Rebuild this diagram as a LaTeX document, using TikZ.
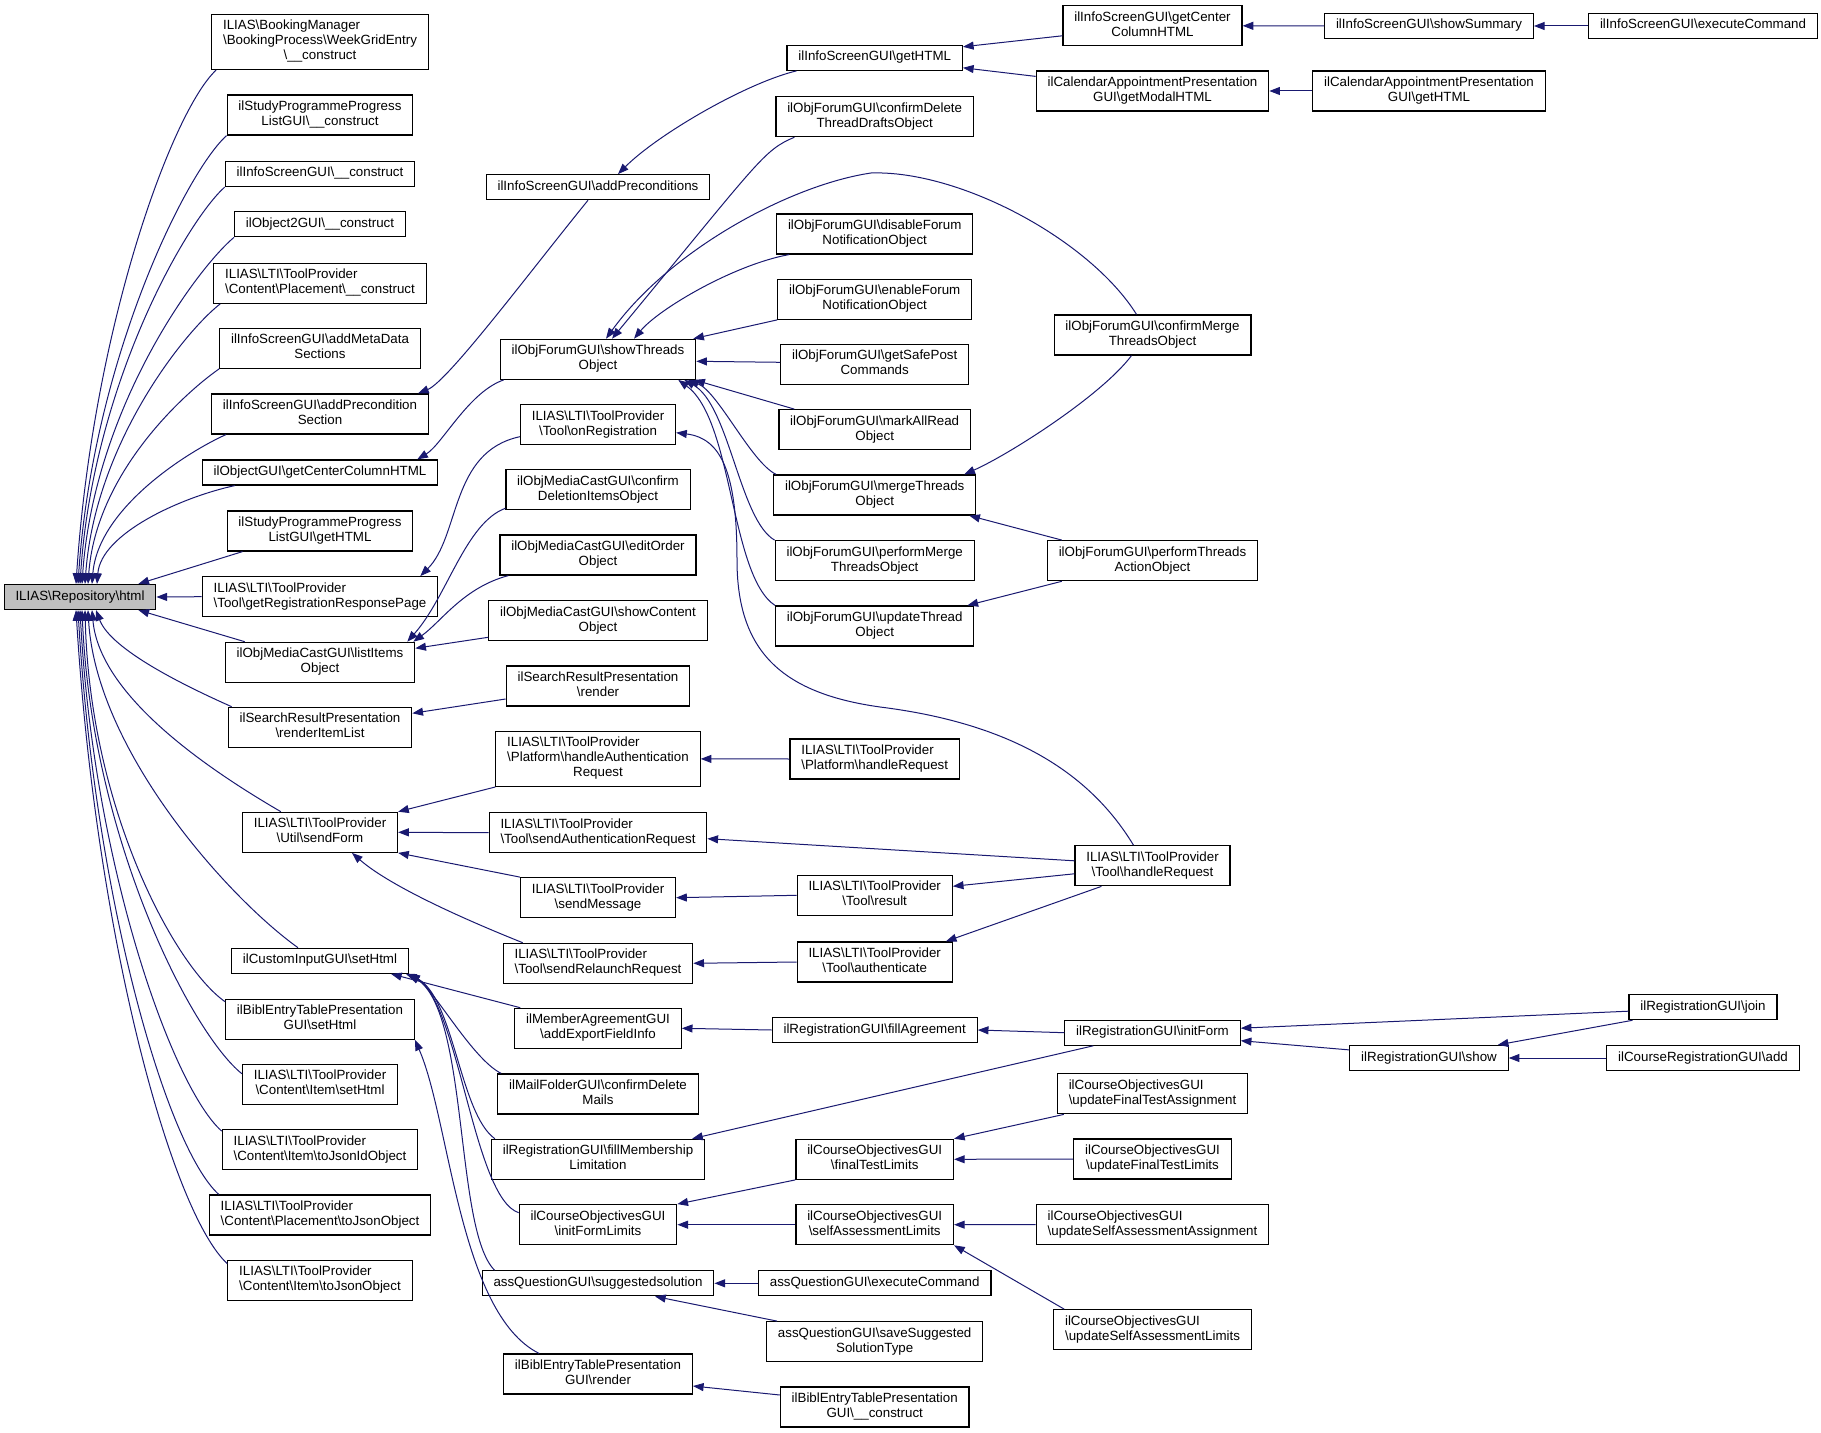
\documentclass[tikz,border=0pt]{standalone}
\usepackage{fontspec}
\setmainfont{Liberation Sans}
\usetikzlibrary{calc}
\usetikzlibrary{arrows.meta}

\definecolor{midnightBlue}{HTML}{191970}
\definecolor{rootGrey}{HTML}{BFBFBF}

\newcommand{\bks}{\textbackslash}
\newcommand{\oneLine}[1]{\begin{tabular}{@{}c@{}}#1\end{tabular}}
\newcommand{\twoLine}[2]{\begin{tabular}{@{}l@{}}#1\\\multicolumn{1}{@{}c@{}}{#2}\end{tabular}}
\newcommand{\threeLine}[3]{\begin{tabular}{@{}l@{}}#1\\#2\\\multicolumn{1}{@{}c@{}}{#3}\end{tabular}}
\renewcommand{\arraystretch}{0.9375}

\tikzset{
	func/.style={draw=black, line width=0.9pt, fill=white, inner xsep=8.5pt, inner ysep=1pt, minimum height=18.75pt},
	func2/.style={func, minimum height=30pt},
	func3/.style={func, minimum height=41.25pt},
	rootFunc/.style={func, fill=rootGrey},
	callArrow/.style={draw=midnightBlue, line width=0.75pt, -{Triangle[length=8pt, width=6pt]}}
}

\begin{document}
\begin{tikzpicture}[x=0.75pt, y=-0.75pt]

	\useasboundingbox (0,0) rectangle (1821,1433);

% Define nodes.

	%root
	\node[rootFunc] (repoHtml) at (80,597) {\oneLine{ILIAS\bks Repository\bks html}};

	%first column
	\node[func3] (bookingConstruct) at (320,42) {\threeLine{ILIAS\bks BookingManager}{\bks BookingProcess\bks WeekGridEntry}{\bks\_\_construct}};
	\node[func2] (spListConstruct) at (320,115) {\twoLine{ilStudyProgrammeProgress}{ListGUI\bks\_\_construct}};
	\node[func] (infoConstruct) at (320,174) {\oneLine{ilInfoScreenGUI\bks\_\_construct}};
	\node[func] (obj2Construct) at (320,224.3) {\oneLine{ilObject2GUI\bks\_\_construct}};
	\node[func2] (placementConstruct) at (320,283.3) {\twoLine{ILIAS\bks LTI\bks ToolProvider}{\bks Content\bks Placement\bks\_\_construct}};
	\node[func2] (addMetaData) at (320,348.3) {\twoLine{ilInfoScreenGUI\bks addMetaData}{Sections}};
	\node[func2] (addPrecondition) at (320,414) {\twoLine{ilInfoScreenGUI\bks addPrecondition}{Section}};
	\node[func] (objGetCenterColumn) at (320,472.5) {\oneLine{ilObjectGUI\bks getCenterColumnHTML}};
	\node[func2] (spListGetHTML) at (320,531) {\twoLine{ilStudyProgrammeProgress}{ListGUI\bks getHTML}};
	\node[func2] (getRegResponse) at (320,596.7) {\twoLine{ILIAS\bks LTI\bks ToolProvider}{\bks Tool\bks getRegistrationResponsePage}};
	\node[func2] (listItems) at (320,662.3) {\twoLine{ilObjMediaCastGUI\bks listItems}{Object}};
	\node[func2] (renderItemList) at (320,727.3) {\twoLine{ilSearchResultPresentation}{\bks renderItemList}};
	\node[func2] (sendForm) at (320,832.3) {\twoLine{ILIAS\bks LTI\bks ToolProvider}{\bks Util\bks sendForm}};
	\node[func] (customSetHtml) at (320,960.8) {\oneLine{ilCustomInputGUI\bks setHtml}};
	\node[func2] (biblSetHtml) at (320,1019.3) {\twoLine{ilBiblEntryTablePresentation}{GUI\bks setHtml}};
	\node[func2] (itemSetHtml) at (320,1084.3) {\twoLine{ILIAS\bks LTI\bks ToolProvider}{\bks Content\bks Item\bks setHtml}};
	\node[func2] (itemToJsonId) at (320,1149.7) {\twoLine{ILIAS\bks LTI\bks ToolProvider}{\bks Content\bks Item\bks toJsonIdObject}};
	\node[func2] (placementToJson) at (320,1215) {\twoLine{ILIAS\bks LTI\bks ToolProvider}{\bks Content\bks Placement\bks toJsonObject}};
	\node[func2] (itemToJson) at (320,1280.3) {\twoLine{ILIAS\bks LTI\bks ToolProvider}{\bks Content\bks Item\bks toJsonObject}};

	%second column
	\node[func] (addPreconditions) at (598,187.2) {\oneLine{ilInfoScreenGUI\bks addPreconditions}};
	\node[func2] (showThreads) at (598,359.3) {\twoLine{ilObjForumGUI\bks showThreads}{Object}};
	\node[func2] (onRegistration) at (598,424.7) {\twoLine{ILIAS\bks LTI\bks ToolProvider}{\bks Tool\bks onRegistration}};
	\node[func2] (confirmDeletionItems) at (598,489.7) {\twoLine{ilObjMediaCastGUI\bks confirm}{DeletionItemsObject}};
	\node[func2] (editOrder) at (598,555) {\twoLine{ilObjMediaCastGUI\bks editOrder}{Object}};
	\node[func2] (showContent) at (598,620.7) {\twoLine{ilObjMediaCastGUI\bks showContent}{Object}};
	\node[func2] (searchRender) at (598,686) {\twoLine{ilSearchResultPresentation}{\bks render}};
	\node[func3] (handleAuthReq) at (598,758.9) {\threeLine{ILIAS\bks LTI\bks ToolProvider}{\bks Platform\bks handleAuthentication}{Request}};
	\node[func2] (sendAuthReq) at (598,832.7) {\twoLine{ILIAS\bks LTI\bks ToolProvider}{\bks Tool\bks sendAuthenticationRequest}};
	\node[func2] (sendMessage) at (598,897.7) {\twoLine{ILIAS\bks LTI\bks ToolProvider}{\bks sendMessage}};
	\node[func2] (sendRelaunch) at (598,963.3) {\twoLine{ILIAS\bks LTI\bks ToolProvider}{\bks Tool\bks sendRelaunchRequest}};
	\node[func2] (addExportFieldInfo) at (598,1028.3) {\twoLine{ilMemberAgreementGUI}{\bks addExportFieldInfo}};
	\node[func2] (mailConfirmDelete) at (598,1094) {\twoLine{ilMailFolderGUI\bks confirmDelete}{Mails}};
	\node[func2] (fillMembership) at (598,1159.3) {\twoLine{ilRegistrationGUI\bks fillMembership}{Limitation}};
	\node[func2] (initFormLimits) at (598,1224.7) {\twoLine{ilCourseObjectivesGUI}{\bks initFormLimits}};
	\node[func] (suggestedSolution) at (598,1283.3) {\oneLine{assQuestionGUI\bks suggestedsolution}};
	\node[func2] (biblRender) at (598,1374) {\twoLine{ilBiblEntryTablePresentation}{GUI\bks render}};

	%third column
	\node[func] (infoGetHTML) at (874.7,57.8) {\oneLine{ilInfoScreenGUI\bks getHTML}};
	\node[func2] (confirmDeleteDrafts) at (874.7,116.7) {\twoLine{ilObjForumGUI\bks confirmDelete}{ThreadDraftsObject}};
	\node[func2] (disableForum) at (874.7,234) {\twoLine{ilObjForumGUI\bks disableForum}{NotificationObject}};
	\node[func2] (enableForum) at (874.7,299.3) {\twoLine{ilObjForumGUI\bks enableForum}{NotificationObject}};
	\node[func2] (getSafePost) at (874.7,364.3) {\twoLine{ilObjForumGUI\bks getSafePost}{Commands}};
	\node[func2] (markAllRead) at (874.7,429.7) {\twoLine{ilObjForumGUI\bks markAllRead}{Object}};
	\node[func2] (mergeThreads) at (874.7,495) {\twoLine{ilObjForumGUI\bks mergeThreads}{Object}};
	\node[func2] (performMerge) at (874.7,560.7) {\twoLine{ilObjForumGUI\bks performMerge}{ThreadsObject}};
	\node[func2] (updateThread) at (874.7,626) {\twoLine{ilObjForumGUI\bks updateThread}{Object}};
	\node[func2] (platformHandleRequest) at (874.7,759) {\twoLine{ILIAS\bks LTI\bks ToolProvider}{\bks Platform\bks handleRequest}};
	\node[func2] (toolResult) at (874.7,895.3) {\twoLine{ILIAS\bks LTI\bks ToolProvider}{\bks Tool\bks result}};
	\node[func2] (toolAuthenticate) at (874.7,962) {\twoLine{ILIAS\bks LTI\bks ToolProvider}{\bks Tool\bks authenticate}};
	\node[func] (fillAgreement) at (874.7,1030) {\oneLine{ilRegistrationGUI\bks fillAgreement}};
	\node[func2] (finalTestLimits) at (874.7,1159.3) {\twoLine{ilCourseObjectivesGUI}{\bks finalTestLimits}};
	\node[func2] (selfAssessLimits) at (874.7,1224.7) {\twoLine{ilCourseObjectivesGUI}{\bks selfAssessmentLimits}};
	\node[func] (assExecute) at (874.7,1283.3) {\oneLine{assQuestionGUI\bks executeCommand}};
	\node[func2] (saveSuggested) at (874.7,1341.7) {\twoLine{assQuestionGUI\bks saveSuggested}{SolutionType}};
	\node[func2] (biblConstruct) at (874.7,1407) {\twoLine{ilBiblEntryTablePresentation}{GUI\bks\_\_construct}};

	%fourth column
	\node[func2] (infoGetCenterColumn) at (1152.5,25.8) {\twoLine{ilInfoScreenGUI\bks getCenter}{ColumnHTML}};
	\node[func2] (calGetModal) at (1152.5,91) {\twoLine{ilCalendarAppointmentPresentation}{GUI\bks getModalHTML}};
	\node[func2] (confirmMerge) at (1152.5,335) {\twoLine{ilObjForumGUI\bks confirmMerge}{ThreadsObject}};
	\node[func2] (performThreadsAction) at (1152.5,560.7) {\twoLine{ilObjForumGUI\bks performThreads}{ActionObject}};
	\node[func2] (toolHandleRequest) at (1152.5,865.8) {\twoLine{ILIAS\bks LTI\bks ToolProvider}{\bks Tool\bks handleRequest}};
	\node[func] (initForm) at (1152.5,1032.7) {\oneLine{ilRegistrationGUI\bks initForm}};
	\node[func2] (updFinalAssign) at (1152.5,1093.8) {\twoLine{ilCourseObjectivesGUI}{\bks updateFinalTestAssignment}};
	\node[func2] (updFinalLimits) at (1152.5,1159) {\twoLine{ilCourseObjectivesGUI}{\bks updateFinalTestLimits}};
	\node[func2] (updSelfAssign) at (1152.5,1224.5) {\twoLine{ilCourseObjectivesGUI}{\bks updateSelfAssessmentAssignment}};
	\node[func2] (updSelfLimits) at (1152.5,1329.7) {\twoLine{ilCourseObjectivesGUI}{\bks updateSelfAssessmentLimits}};

	%fifth and sixth column
	\node[func] (showSummary) at (1429,26) {\oneLine{ilInfoScreenGUI\bks showSummary}};
	\node[func2] (calGetHTML) at (1429,91) {\twoLine{ilCalendarAppointmentPresentation}{GUI\bks getHTML}};
	\node[func] (regShow) at (1429,1058) {\oneLine{ilRegistrationGUI\bks show}};
	\node[func] (infoExecute) at (1703,26) {\oneLine{ilInfoScreenGUI\bks executeCommand}};
	\node[func] (regJoin) at (1703,1007.2) {\oneLine{ilRegistrationGUI\bks join}};
	\node[func] (courseRegAdd) at (1703,1058) {\oneLine{ilCourseRegistrationGUI\bks add}};

% Draw calls into the root.

	\draw[callArrow] ($(bookingConstruct.south west)+(5,0)$) .. controls +(-44,41) and +(17,-257) .. ($(repoHtml.north)+(-4,0)$);
	\draw[callArrow] (spListConstruct.south west) .. controls +(-40,36) and +(15,-225) .. ($(repoHtml.north)+(-2,0)$);
	\draw[callArrow] (infoConstruct.south west) .. controls +(-38,34) and +(13,-200) .. (repoHtml.north);
	\draw[callArrow] (obj2Construct.south west) .. controls +(-38,32) and +(12,-175) .. ($(repoHtml.north)+(2,0)$);
	\draw[callArrow] ($(placementConstruct.south west)+(7,0)$) .. controls +(-36,28) and +(10,-140) .. ($(repoHtml.north)+(5,0)$);
	\draw[callArrow] (addMetaData.south west) .. controls +(-36,25) and +(8,-110) .. ($(repoHtml.north)+(8,0)$);
	\draw[callArrow] ($(addPrecondition.south west)+(15,0)$) .. controls +(-40,18) and +(6,-75) .. ($(repoHtml.north)+(12,0)$);
	\draw[callArrow] ($(objGetCenterColumn.south west)+(33,0)$) .. controls +(-55,12) and +(4,-50) .. ($(repoHtml.north)+(17,0)$);
	\draw[callArrow] ($(spListGetHTML.south west)+(16,0)$) -- ($(repoHtml.north east)+(-18,0)$);
	\draw[callArrow] (getRegResponse.west) -- (repoHtml.east);
	\draw[callArrow] ($(listItems.north west)+(20,0)$) -- ($(repoHtml.south east)+(-18,0)$);
	\draw[callArrow] ($(renderItemList.north west)+(4,0)$) .. controls +(-45,-20) and +(15,40) .. ($(repoHtml.south)+(16,0)$);
	\draw[callArrow] ($(sendForm.north west)+(39,0)$) .. controls +(-60,-35) and +(8,90) .. ($(repoHtml.south)+(12,0)$);
	\draw[callArrow] ($(customSetHtml.north west)+(67,0)$) .. controls +(-70,-50) and +(8,140) .. ($(repoHtml.south)+(8,0)$);
	\draw[callArrow] ($(biblSetHtml.north west)+(0,3)$) .. controls +(-50,-35) and +(5,200) .. ($(repoHtml.south)+(5,0)$);
	\draw[callArrow] ($(itemSetHtml.north west)+(0,10)$) .. controls +(-50,-40) and +(10,230) .. ($(repoHtml.south)+(2,0)$);
	\draw[callArrow] ($(itemToJsonId.north west)+(0,2)$) .. controls +(-48,-42) and +(14,260) .. (repoHtml.south);
	\draw[callArrow] ($(placementToJson.north west)+(10,0)$) .. controls +(-52,-47) and +(17,290) .. ($(repoHtml.south)+(-2,0)$);
	\draw[callArrow] ($(itemToJson.north west)+(0,4)$) .. controls +(-56,-52) and +(20,327) .. ($(repoHtml.south)+(-4,0)$);

% Draw calls into the first column.

	\draw[callArrow] ($(addPreconditions.south)+(-10,0)$) .. controls +(-57,70) and +(30,-12) .. ($(addPrecondition.north east)+(-11,0)$);
	\draw[callArrow] ($(showThreads.south west)+(4,0)$) .. controls +(-35,12) and +(25,-15) .. ($(objGetCenterColumn.north east)+(-21,0)$);
	\draw[callArrow] ($(onRegistration.west)+(0,12)$) .. controls +(-70,15) and +(40,-40) .. ($(getRegResponse.north east)+(-18,0)$);
	\draw[callArrow] ($(confirmDeletionItems.south west)+(0,-2)$) .. controls +(-40,15) and +(40,-45) .. ($(listItems.north east)+(-8,0)$);
	\draw[callArrow] ($(editOrder.south west)+(9,0)$) .. controls +(-45,12) and +(28,-20) .. ($(listItems.north east)+(-2,0)$);
	\draw[callArrow] ($(showContent.south west)+(0,-4)$) -- ($(listItems.east)+(0,-14)$);
	\draw[callArrow] ($(searchRender.west)+(0,13)$) -- ($(renderItemList.east)+(0,-14)$);
	\draw[callArrow] (handleAuthReq.south west) -- (sendForm.north east);
	\draw[callArrow] (sendAuthReq.west) -- (sendForm.east);
	\draw[callArrow] (sendMessage.north west) -- (sendForm.south east);
	\draw[callArrow] ($(sendRelaunch.north west)+(20,0)$) .. controls +(-50,-20) and +(40,35) .. ($(sendForm.south)+(32,0)$);
	\draw[callArrow] ($(addExportFieldInfo.north west)+(6,0)$) -- ($(customSetHtml.south east)+(-18,0)$);
	\draw[callArrow] ($(mailConfirmDelete.north west)+(4,0)$) .. controls +(-30,-15) and +(25,10) .. ($(customSetHtml.south east)+(-3,0)$);
	\draw[callArrow] ($(fillMembership.north west)+(4,0)$) .. controls +(-35,-25) and +(45,25) .. (customSetHtml.south east);
	\draw[callArrow] ($(initFormLimits.west)+(0,-12)$) .. controls +(-45,-15) and +(50,30) .. (customSetHtml.south east);
	\draw[callArrow] ($(suggestedSolution.north west)+(13,0)$) .. controls +(-40,-40) and +(60,40) .. (customSetHtml.south east);
	\draw[callArrow] ($(biblRender.north west)+(36,0)$) .. controls +(-80,-40) and +(35,80) .. (biblSetHtml.south east);

% Draw calls into the second column.

	\draw[callArrow] ($(infoGetHTML.south west)+(10,0)$) .. controls +(-50,12) and +(40,-40) .. ($(addPreconditions.north)+(20,0)$);
	\draw[callArrow] ($(confirmDeleteDrafts.south west)+(19,0)$) .. controls +(-31,13) and +(148,-179) .. ($(showThreads.north)+(14,0)$);
	\draw[callArrow] ($(confirmMerge.north)+(-16,0)$) .. controls (1090,240) and (960,170) .. (871,173) .. controls (790,185) and (670,250) .. ($(showThreads.north)+(8,0)$);
	\draw[callArrow] ($(disableForum.south west)+(13,0)$) .. controls +(-55,10) and +(25,-30) .. ($(showThreads.north)+(36,0)$);
	\draw[callArrow] (enableForum.south west) -- ($(showThreads.north east)+(-3,0)$);
	\draw[callArrow] ($(getSafePost.west)+(0,-2)$) -- ($(showThreads.east)+(0,2)$);
	\draw[callArrow] ($(markAllRead.north west)+(16,0)$) -- ($(showThreads.south east)+(-2,0)$);
	\draw[callArrow] ($(mergeThreads.north west)+(3,0)$) .. controls +(-25,-12) and +(30,12) .. ($(showThreads.south east)+(-8,0)$);
	\draw[callArrow] (performMerge.north west) .. controls +(-35,-20) and +(45,25) .. ($(showThreads.south east)+(-12,0)$);
	\draw[callArrow] (updateThread.north west) .. controls +(-45,-30) and +(55,40) .. ($(showThreads.south east)+(-18,0)$);
	\draw[callArrow] ($(toolHandleRequest.north)+(-19,0)$) .. controls (1085,765) and (1000,722) .. (880,707) .. controls (780,693) and (737,650) .. (737,560) .. controls (737,470) and (720,438) .. ($(onRegistration.east)+(0,8)$);
	\draw[callArrow] (platformHandleRequest.west) -- (handleAuthReq.east);
	\draw[callArrow] ($(toolHandleRequest.west)+(0,-5)$) -- ($(sendAuthReq.east)+(0,6)$);
	\draw[callArrow] (toolResult.west) -- (sendMessage.east);
	\draw[callArrow] (toolAuthenticate.west) -- (sendRelaunch.east);
	\draw[callArrow] (fillAgreement.west) -- (addExportFieldInfo.east);
	\draw[callArrow] ($(initForm.south west)+(29,0)$) -- ($(fillMembership.north east)+(-13,0)$);
	\draw[callArrow] (finalTestLimits.south west) -- (initFormLimits.north east);
	\draw[callArrow] (selfAssessLimits.west) -- (initFormLimits.east);
	\draw[callArrow] (assExecute.west) -- (suggestedSolution.east);
	\draw[callArrow] ($(saveSuggested.north west)+(11,0)$) -- ($(suggestedSolution.south)+(57,0)$);
	\draw[callArrow] ($(biblConstruct.west)+(0,-12)$) -- ($(biblRender.east)+(0,12)$);

% Draw calls further right.

	\draw[callArrow] ($(infoGetCenterColumn.west)+(0,10)$) -- ($(infoGetHTML.east)+(0,-11)$);
	\draw[callArrow] ($(calGetModal.north west)+(0,6)$) -- ($(infoGetHTML.east)+(0,10)$);
	\draw[callArrow] ($(confirmMerge.south)+(-21,0)$) .. controls +(-30,40) and +(45,-20) .. ($(mergeThreads.north east)+(-12,0)$);
	\draw[callArrow] ($(performThreadsAction.north west)+(15,0)$) -- ($(mergeThreads.south east)+(-7,0)$);
	\draw[callArrow] ($(performThreadsAction.south west)+(15,0)$) -- ($(updateThread.north east)+(-7,0)$);
	\draw[callArrow] ($(toolHandleRequest.west)+(0,8)$) -- ($(toolResult.east)+(0,-9)$);
	\draw[callArrow] ($(toolHandleRequest.south west)+(27,0)$) -- ($(toolAuthenticate.north east)+(-7,0)$);
	\draw[callArrow] (initForm.west) -- (fillAgreement.east);
	\draw[callArrow] ($(updFinalAssign.south west)+(7,0)$) -- (finalTestLimits.north east);
	\draw[callArrow] (updFinalLimits.west) -- (finalTestLimits.east);
	\draw[callArrow] (updSelfAssign.west) -- (selfAssessLimits.east);
	\draw[callArrow] ($(updSelfLimits.north west)+(11,0)$) -- (selfAssessLimits.south east);
	\draw[callArrow] (showSummary.west) -- (infoGetCenterColumn.east);
	\draw[callArrow] (calGetHTML.west) -- (calGetModal.east);
	\draw[callArrow] (infoExecute.west) -- (showSummary.east);
	\draw[callArrow] ($(regJoin.west)+(0,4)$) -- ($(initForm.east)+(0,-4.5)$);
	\draw[callArrow] ($(regShow.north west)+(0,5)$) -- ($(initForm.east)+(0,8)$);
	\draw[callArrow] ($(regJoin.south west)+(4,0)$) -- ($(regShow.north east)+(-11,0)$);
	\draw[callArrow] (courseRegAdd.west) -- (regShow.east);

\end{tikzpicture}
\end{document}
